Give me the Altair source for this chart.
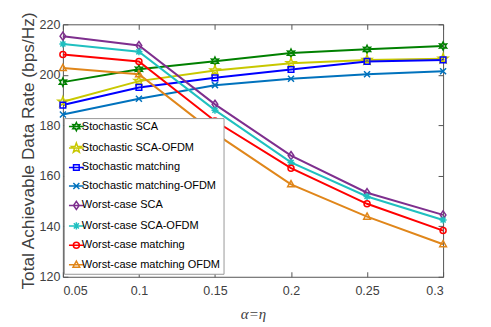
import math
import altair as alt
import pandas as pd

alpha = [0.05, 0.1, 0.15, 0.2, 0.25, 0.3]
series_names = [
    "Stochastic SCA",
    "Stochastic SCA-OFDM",
    "Stochastic matching",
    "Stochastic matching-OFDM",
    "Worst-case SCA",
    "Worst-case SCA-OFDM",
    "Worst-case matching",
    "Worst-case matching OFDM",
]
stoch_sca = [197.1, 202.2, 205.4, 208.6, 210.1, 211.4]
stoch_sca_ofdm = [189.3, 197.5, 201.7, 204.6, 205.9, 206.4]
stoch_match = [188.0, 195.0, 198.8, 202.1, 205.3, 205.9]
stoch_match_ofdm = [184.3, 190.5, 195.9, 198.4, 200.2, 201.4]
wc_sca = [215.3, 211.6, 188.3, 168.0, 153.3, 144.5]
wc_sca_ofdm = [212.2, 209.1, 186.0, 165.3, 151.8, 142.5]
wc_match = [208.0, 205.3, 181.7, 163.0, 148.9, 138.3]
wc_match_ofdm = [202.7, 200.2, 176.8, 156.6, 143.8, 132.9]

all_values = [stoch_sca, stoch_sca_ofdm, stoch_match, stoch_match_ofdm,
              wc_sca, wc_sca_ofdm, wc_match, wc_match_ofdm]
colors = ["#008000", "#C8C800", "#0000FF", "#0072BD",
          "#7E2F8E", "#1FC0C0", "#FF0000", "#E0861A"]

x_ticks = [0.05, 0.1, 0.15, 0.2, 0.25, 0.3]
y_ticks = [120, 140, 160, 180, 200, 220]

rows = []
for name, vals in zip(series_names, all_values):
    for a, v in zip(alpha, vals):
        rows.append({"alpha": a, "rate": v, "series": name})
df = pd.DataFrame(rows)


def fmt(v):
    return ("%.3f" % v).rstrip("0").rstrip(".")


def star(n, r_out, r_in):
    pts = []
    for k in range(2 * n):
        r = r_out if k % 2 == 0 else r_in
        t = -math.pi / 2 + k * math.pi / n
        pts.append((r * math.cos(t), r * math.sin(t)))
    return "M" + "L".join(fmt(px) + "," + fmt(py) for px, py in pts) + "Z"


markers = [
    star(6, 1.15, 0.6),
    star(5, 1.45, 0.6),
    "M-0.8,-0.8H0.8V0.8H-0.8Z",
    "M-0.85,-0.85L0.85,0.85M-0.85,0.85L0.85,-0.85",
    "M0,-1.15L0.8,0L0,1.15L-0.8,0Z",
    "M-1,0H1M0,-1V1M-0.72,-0.72L0.72,0.72M-0.72,0.72L0.72,-0.72",
    "M-0.85,0A0.85,0.85 0 1,0 0.85,0A0.85,0.85 0 1,0 -0.85,0Z",
    "M0,-1.05L0.95,0.7H-0.95Z",
]
legend_shapes = ["M-2.1,0H2.1" + m for m in markers]

grey = "#404040"
xscale = alt.Scale(domain=[0.05, 0.3], nice=False, zero=False)
yscale = alt.Scale(domain=[120, 220], nice=False, zero=False)
cscale = alt.Scale(domain=series_names, range=colors)

tick_axis = dict(labels=False, domain=False, ticks=True, tickSize=5,
                 offset=-5, grid=False, title=None, tickColor="#555555")

base = alt.Chart(df)

lines = base.mark_line(strokeWidth=2).encode(
    x=alt.X("alpha:Q", scale=xscale,
            axis=alt.Axis(values=x_ticks, format="~g", ticks=False, domain=False,
                          grid=False, title="α=η", labelPadding=8,
                          titlePadding=9, titleFont="Liberation Serif",
                          titleFontStyle="italic", titleFontWeight="normal",
                          titleFontSize=15, titleColor=grey)),
    y=alt.Y("rate:Q", scale=yscale,
            axis=alt.Axis(values=y_ticks, ticks=False, domain=False, grid=False,
                          title="Total Achievable Data Rate (bps/Hz)",
                          labelPadding=3, titlePadding=2,
                          titleFont="Liberation Sans", titleFontWeight="normal",
                          titleFontSize=17.3, titleColor=grey)),
    color=alt.Color("series:N", scale=cscale, legend=None),
    detail="series:N",
)

points = base.mark_point(filled=False, size=50, strokeWidth=1.5, opacity=1).encode(
    x=alt.X("alpha:Q", scale=xscale,
            axis=alt.Axis(values=x_ticks, orient="bottom", **tick_axis)),
    y=alt.Y("rate:Q", scale=yscale,
            axis=alt.Axis(values=y_ticks, orient="left", **tick_axis)),
    color=alt.Color("series:N", scale=cscale, legend=None),
    shape=alt.Shape("series:N",
                    scale=alt.Scale(domain=series_names, range=markers),
                    legend=None),
)

legend_layer = base.transform_filter("datum.alpha < 0").mark_point(
    filled=False, size=50, strokeWidth=1.5, opacity=1
).encode(
    x=alt.X("alpha:Q", scale=xscale,
            axis=alt.Axis(values=x_ticks, orient="top", **tick_axis)),
    y=alt.Y("rate:Q", scale=yscale,
            axis=alt.Axis(values=y_ticks, orient="right", **tick_axis)),
    color=alt.Color("series:N", scale=alt.Scale(domain=series_names, range=colors),
                    legend=alt.Legend(title=None)),
    shape=alt.Shape("series:N",
                    scale=alt.Scale(domain=series_names, range=legend_shapes),
                    legend=alt.Legend(title=None)),
)

chart = alt.layer(lines, points, legend_layer).resolve_scale(
    color="independent", shape="independent"
).resolve_axis(
    x="independent", y="independent"
).properties(
    width=381, height=253,
    autosize=alt.AutoSizeParams(type="none"),
    padding={"left": 55, "top": 16, "right": 40, "bottom": 50},
).configure_view(
    stroke="#555555", strokeWidth=1
).configure_axis(
    labelFont="Liberation Sans", labelFontSize=12.5, labelColor=grey,
).configure_legend(
    orient="none", legendX=1, legendY=94,
    padding=3, symbolOffset=4, labelOffset=0,
    rowPadding=5.5, symbolSize=50, symbolStrokeWidth=1.5,
    labelFont="Liberation Sans", labelFontSize=11, labelColor="#000000",
    strokeColor="#999999", fillColor="#ffffff", cornerRadius=0,
    labelLimit=300,
)

chart.save("out.html", embed_options={"renderer": "svg", "actions": False})
